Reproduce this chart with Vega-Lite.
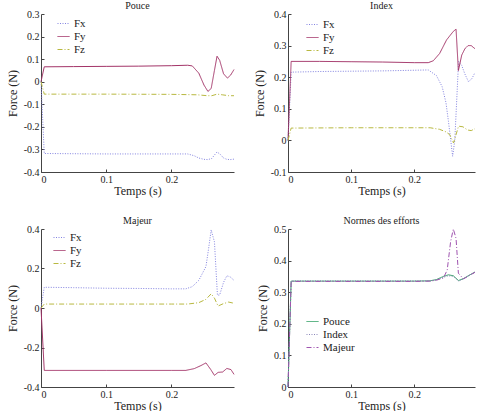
{
  "$schema": "https://vega.github.io/schema/vega-lite/v6.json",
  "padding": {"left": 6, "top": 0, "right": 0, "bottom": 0},
  "config": {
    "font": "Liberation Serif",
    "view": {"stroke": null},
    "axis": {"grid": false, "domainColor": "#444", "tickColor": "#444", "tickSize": -3, "labelPadding": 5, "labelFont": "Liberation Serif", "labelFontSize": 10, "labelColor": "#222", "titleFont": "Liberation Serif", "titleFontSize": 12, "titleFontWeight": "normal", "titleColor": "#222"},
    "axisX": {"titlePadding": 1},
    "title": {"font": "Liberation Serif", "fontSize": 10, "fontWeight": "normal", "color": "#222", "offset": -1.5},
    "legend": {"labelFont": "Liberation Serif", "labelFontSize": 11, "labelColor": "#222", "symbolType": "stroke", "symbolSize": 144, "symbolStrokeWidth": 1.2, "rowPadding": 1, "title": null},
    "line": {"strokeWidth": 1}
  },
  "datasets": {
    "d": [
      {"p":"Pouce","s":"Fx","t":0,"f":0},{"p":"Pouce","s":"Fx","t":0.005,"f":-0.318},{"p":"Pouce","s":"Fx","t":0.05,"f":-0.319},{"p":"Pouce","s":"Fx","t":0.1,"f":-0.32},{"p":"Pouce","s":"Fx","t":0.15,"f":-0.32},{"p":"Pouce","s":"Fx","t":0.2,"f":-0.32},{"p":"Pouce","s":"Fx","t":0.225,"f":-0.32},{"p":"Pouce","s":"Fx","t":0.235,"f":-0.328},{"p":"Pouce","s":"Fx","t":0.242,"f":-0.338},{"p":"Pouce","s":"Fx","t":0.25,"f":-0.344},{"p":"Pouce","s":"Fx","t":0.256,"f":-0.345},{"p":"Pouce","s":"Fx","t":0.262,"f":-0.34},{"p":"Pouce","s":"Fx","t":0.266,"f":-0.325},{"p":"Pouce","s":"Fx","t":0.27,"f":-0.311},{"p":"Pouce","s":"Fx","t":0.275,"f":-0.322},{"p":"Pouce","s":"Fx","t":0.28,"f":-0.338},{"p":"Pouce","s":"Fx","t":0.285,"f":-0.344},{"p":"Pouce","s":"Fx","t":0.29,"f":-0.345},{"p":"Pouce","s":"Fx","t":0.296,"f":-0.343},
      {"p":"Pouce","s":"Fy","t":0,"f":0},{"p":"Pouce","s":"Fy","t":0.005,"f":0.066},{"p":"Pouce","s":"Fy","t":0.05,"f":0.067},{"p":"Pouce","s":"Fy","t":0.1,"f":0.068},{"p":"Pouce","s":"Fy","t":0.15,"f":0.069},{"p":"Pouce","s":"Fy","t":0.2,"f":0.071},{"p":"Pouce","s":"Fy","t":0.225,"f":0.073},{"p":"Pouce","s":"Fy","t":0.232,"f":0.07},{"p":"Pouce","s":"Fy","t":0.242,"f":0.038},{"p":"Pouce","s":"Fy","t":0.25,"f":-0.015},{"p":"Pouce","s":"Fy","t":0.256,"f":-0.043},{"p":"Pouce","s":"Fy","t":0.261,"f":-0.03},{"p":"Pouce","s":"Fy","t":0.266,"f":0.05},{"p":"Pouce","s":"Fy","t":0.27,"f":0.113},{"p":"Pouce","s":"Fy","t":0.274,"f":0.095},{"p":"Pouce","s":"Fy","t":0.28,"f":0.035},{"p":"Pouce","s":"Fy","t":0.286,"f":0.016},{"p":"Pouce","s":"Fy","t":0.291,"f":0.03},{"p":"Pouce","s":"Fy","t":0.296,"f":0.054},
      {"p":"Pouce","s":"Fz","t":0,"f":0},{"p":"Pouce","s":"Fz","t":0.005,"f":-0.055},{"p":"Pouce","s":"Fz","t":0.1,"f":-0.055},{"p":"Pouce","s":"Fz","t":0.2,"f":-0.056},{"p":"Pouce","s":"Fz","t":0.24,"f":-0.058},{"p":"Pouce","s":"Fz","t":0.255,"f":-0.062},{"p":"Pouce","s":"Fz","t":0.262,"f":-0.062},{"p":"Pouce","s":"Fz","t":0.27,"f":-0.055},{"p":"Pouce","s":"Fz","t":0.278,"f":-0.058},{"p":"Pouce","s":"Fz","t":0.288,"f":-0.062},{"p":"Pouce","s":"Fz","t":0.296,"f":-0.062},
      {"p":"Index","s":"Fx","t":0,"f":0},{"p":"Index","s":"Fx","t":0.005,"f":0.216},{"p":"Index","s":"Fx","t":0.05,"f":0.218},{"p":"Index","s":"Fx","t":0.1,"f":0.219},{"p":"Index","s":"Fx","t":0.15,"f":0.22},{"p":"Index","s":"Fx","t":0.2,"f":0.222},{"p":"Index","s":"Fx","t":0.222,"f":0.223},{"p":"Index","s":"Fx","t":0.235,"f":0.205},{"p":"Index","s":"Fx","t":0.244,"f":0.17},{"p":"Index","s":"Fx","t":0.25,"f":0.12},{"p":"Index","s":"Fx","t":0.254,"f":0.06},{"p":"Index","s":"Fx","t":0.2606,"f":-0.05},{"p":"Index","s":"Fx","t":0.264,"f":0.0},{"p":"Index","s":"Fx","t":0.27,"f":0.25},{"p":"Index","s":"Fx","t":0.275,"f":0.237},{"p":"Index","s":"Fx","t":0.28,"f":0.21},{"p":"Index","s":"Fx","t":0.2856,"f":0.186},{"p":"Index","s":"Fx","t":0.291,"f":0.195},{"p":"Index","s":"Fx","t":0.296,"f":0.215},
      {"p":"Index","s":"Fy","t":0,"f":0},{"p":"Index","s":"Fy","t":0.005,"f":0.25},{"p":"Index","s":"Fy","t":0.05,"f":0.25},{"p":"Index","s":"Fy","t":0.1,"f":0.249},{"p":"Index","s":"Fy","t":0.15,"f":0.248},{"p":"Index","s":"Fy","t":0.2,"f":0.246},{"p":"Index","s":"Fy","t":0.222,"f":0.246},{"p":"Index","s":"Fy","t":0.23,"f":0.252},{"p":"Index","s":"Fy","t":0.24,"f":0.275},{"p":"Index","s":"Fy","t":0.251,"f":0.318},{"p":"Index","s":"Fy","t":0.2617,"f":0.345},{"p":"Index","s":"Fy","t":0.266,"f":0.352},{"p":"Index","s":"Fy","t":0.2697,"f":0.221},{"p":"Index","s":"Fy","t":0.275,"f":0.27},{"p":"Index","s":"Fy","t":0.28,"f":0.29},{"p":"Index","s":"Fy","t":0.285,"f":0.3},{"p":"Index","s":"Fy","t":0.29,"f":0.3},{"p":"Index","s":"Fy","t":0.296,"f":0.29},
      {"p":"Index","s":"Fz","t":0,"f":0},{"p":"Index","s":"Fz","t":0.005,"f":0.039},{"p":"Index","s":"Fz","t":0.1,"f":0.04},{"p":"Index","s":"Fz","t":0.2,"f":0.04},{"p":"Index","s":"Fz","t":0.225,"f":0.04},{"p":"Index","s":"Fz","t":0.24,"f":0.035},{"p":"Index","s":"Fz","t":0.25,"f":0.027},{"p":"Index","s":"Fz","t":0.256,"f":0.018},{"p":"Index","s":"Fz","t":0.262,"f":-0.008},{"p":"Index","s":"Fz","t":0.27,"f":0.045},{"p":"Index","s":"Fz","t":0.277,"f":0.043},{"p":"Index","s":"Fz","t":0.284,"f":0.033},{"p":"Index","s":"Fz","t":0.29,"f":0.031},{"p":"Index","s":"Fz","t":0.296,"f":0.037},
      {"p":"Majeur","s":"Fx","t":0,"f":0},{"p":"Majeur","s":"Fx","t":0.005,"f":0.105},{"p":"Majeur","s":"Fx","t":0.05,"f":0.103},{"p":"Majeur","s":"Fx","t":0.1,"f":0.1},{"p":"Majeur","s":"Fx","t":0.15,"f":0.099},{"p":"Majeur","s":"Fx","t":0.2,"f":0.097},{"p":"Majeur","s":"Fx","t":0.222,"f":0.097},{"p":"Majeur","s":"Fx","t":0.232,"f":0.108},{"p":"Majeur","s":"Fx","t":0.242,"f":0.14},{"p":"Majeur","s":"Fx","t":0.253,"f":0.21},{"p":"Majeur","s":"Fx","t":0.257,"f":0.3},{"p":"Majeur","s":"Fx","t":0.261,"f":0.395},{"p":"Majeur","s":"Fx","t":0.266,"f":0.335},{"p":"Majeur","s":"Fx","t":0.2706,"f":0.065},{"p":"Majeur","s":"Fx","t":0.274,"f":0.066},{"p":"Majeur","s":"Fx","t":0.28,"f":0.13},{"p":"Majeur","s":"Fx","t":0.285,"f":0.163},{"p":"Majeur","s":"Fx","t":0.29,"f":0.158},{"p":"Majeur","s":"Fx","t":0.296,"f":0.14},
      {"p":"Majeur","s":"Fy","t":0,"f":0},{"p":"Majeur","s":"Fy","t":0.005,"f":-0.316},{"p":"Majeur","s":"Fy","t":0.1,"f":-0.316},{"p":"Majeur","s":"Fy","t":0.2,"f":-0.316},{"p":"Majeur","s":"Fy","t":0.222,"f":-0.316},{"p":"Majeur","s":"Fy","t":0.235,"f":-0.307},{"p":"Majeur","s":"Fy","t":0.245,"f":-0.292},{"p":"Majeur","s":"Fy","t":0.253,"f":-0.278},{"p":"Majeur","s":"Fy","t":0.26,"f":-0.31},{"p":"Majeur","s":"Fy","t":0.266,"f":-0.341},{"p":"Majeur","s":"Fy","t":0.2716,"f":-0.326},{"p":"Majeur","s":"Fy","t":0.2786,"f":-0.324},{"p":"Majeur","s":"Fy","t":0.285,"f":-0.306},{"p":"Majeur","s":"Fy","t":0.2914,"f":-0.312},{"p":"Majeur","s":"Fy","t":0.296,"f":-0.336},
      {"p":"Majeur","s":"Fz","t":0,"f":0},{"p":"Majeur","s":"Fz","t":0.005,"f":0.02},{"p":"Majeur","s":"Fz","t":0.1,"f":0.02},{"p":"Majeur","s":"Fz","t":0.2,"f":0.02},{"p":"Majeur","s":"Fz","t":0.225,"f":0.02},{"p":"Majeur","s":"Fz","t":0.242,"f":0.027},{"p":"Majeur","s":"Fz","t":0.253,"f":0.044},{"p":"Majeur","s":"Fz","t":0.261,"f":0.072},{"p":"Majeur","s":"Fz","t":0.266,"f":0.05},{"p":"Majeur","s":"Fz","t":0.2716,"f":0.01},{"p":"Majeur","s":"Fz","t":0.2797,"f":0.022},{"p":"Majeur","s":"Fz","t":0.2877,"f":0.03},{"p":"Majeur","s":"Fz","t":0.296,"f":0.024},
      {"p":"Normes","s":"Pouce","t":0,"f":0},{"p":"Normes","s":"Pouce","t":0.005,"f":0.335},{"p":"Normes","s":"Pouce","t":0.1,"f":0.335},{"p":"Normes","s":"Pouce","t":0.2,"f":0.335},{"p":"Normes","s":"Pouce","t":0.225,"f":0.336},{"p":"Normes","s":"Pouce","t":0.235,"f":0.34},{"p":"Normes","s":"Pouce","t":0.246,"f":0.35},{"p":"Normes","s":"Pouce","t":0.254,"f":0.355},{"p":"Normes","s":"Pouce","t":0.2617,"f":0.352},{"p":"Normes","s":"Pouce","t":0.27,"f":0.337},{"p":"Normes","s":"Pouce","t":0.2777,"f":0.343},{"p":"Normes","s":"Pouce","t":0.288,"f":0.355},{"p":"Normes","s":"Pouce","t":0.296,"f":0.364},
      {"p":"Normes","s":"Index","t":0,"f":0},{"p":"Normes","s":"Index","t":0.005,"f":0.336},{"p":"Normes","s":"Index","t":0.1,"f":0.336},{"p":"Normes","s":"Index","t":0.2,"f":0.336},{"p":"Normes","s":"Index","t":0.225,"f":0.336},{"p":"Normes","s":"Index","t":0.235,"f":0.339},{"p":"Normes","s":"Index","t":0.246,"f":0.347},{"p":"Normes","s":"Index","t":0.254,"f":0.352},{"p":"Normes","s":"Index","t":0.2617,"f":0.35},{"p":"Normes","s":"Index","t":0.27,"f":0.335},{"p":"Normes","s":"Index","t":0.2777,"f":0.342},{"p":"Normes","s":"Index","t":0.288,"f":0.355},{"p":"Normes","s":"Index","t":0.296,"f":0.362},
      {"p":"Normes","s":"Majeur","t":0,"f":0},{"p":"Normes","s":"Majeur","t":0.005,"f":0.334},{"p":"Normes","s":"Majeur","t":0.1,"f":0.334},{"p":"Normes","s":"Majeur","t":0.2,"f":0.334},{"p":"Normes","s":"Majeur","t":0.225,"f":0.335},{"p":"Normes","s":"Majeur","t":0.235,"f":0.338},{"p":"Normes","s":"Majeur","t":0.246,"f":0.345},{"p":"Normes","s":"Majeur","t":0.252,"f":0.37},{"p":"Normes","s":"Majeur","t":0.2574,"f":0.46},{"p":"Normes","s":"Majeur","t":0.2617,"f":0.5},{"p":"Normes","s":"Majeur","t":0.266,"f":0.47},{"p":"Normes","s":"Majeur","t":0.2697,"f":0.36},{"p":"Normes","s":"Majeur","t":0.2777,"f":0.342},{"p":"Normes","s":"Majeur","t":0.288,"f":0.354},{"p":"Normes","s":"Majeur","t":0.296,"f":0.363}
    ]
  },
  "columns": 2,
  "spacing": {"row": 19, "column": 17},
  "resolve": {"scale": {"color": "independent", "strokeDash": "independent", "x": "independent", "y": "independent"}, "legend": {"color": "independent", "strokeDash": "independent"}},
  "concat": [
    {
      "title": "Pouce",
      "width": 193, "height": 158,
      "data": {"name": "d"},
      "transform": [{"filter": "datum.p == 'Pouce'"}],
      "mark": {"type": "line", "strokeWidth": 1},
      "encoding": {
        "x": {"field": "t", "type": "quantitative", "scale": {"domain": [0, 0.296], "nice": false, "zero": false}, "axis": {"values": [0, 0.1, 0.2], "title": "Temps (s)", "labelExpr": "'' + datum.value"}},
        "y": {"field": "f", "type": "quantitative", "scale": {"domain": [-0.4, 0.3], "nice": false}, "axis": {"values": [-0.4, -0.3, -0.2, -0.1, 0, 0.1, 0.2, 0.3], "title": "Force (N)", "labelExpr": "'' + datum.value"}},
        "color": {"field": "s", "type": "nominal", "scale": {"domain": ["Fx", "Fy", "Fz"], "range": ["#8383e0", "#a33468", "#b8b840"]}, "legend": {"orient": "none", "legendX": 16, "legendY": 3}},
        "strokeDash": {"field": "s", "type": "nominal", "scale": {"domain": ["Fx", "Fy", "Fz"], "range": [[1, 1.5], [1, 0], [5, 2, 1, 2]]}, "legend": {"orient": "none", "legendX": 16, "legendY": 3}}
      }
    },
    {
      "title": "Index",
      "width": 187, "height": 158,
      "data": {"name": "d"},
      "transform": [{"filter": "datum.p == 'Index'"}],
      "mark": {"type": "line", "strokeWidth": 1},
      "encoding": {
        "x": {"field": "t", "type": "quantitative", "scale": {"domain": [0, 0.296], "nice": false, "zero": false}, "axis": {"values": [0, 0.1, 0.2], "title": "Temps (s)", "labelExpr": "'' + datum.value"}},
        "y": {"field": "f", "type": "quantitative", "scale": {"domain": [-0.1, 0.4], "nice": false}, "axis": {"values": [-0.1, 0, 0.1, 0.2, 0.3, 0.4], "title": "Force (N)", "labelExpr": "'' + datum.value"}},
        "color": {"field": "s", "type": "nominal", "scale": {"domain": ["Fx", "Fy", "Fz"], "range": ["#8383e0", "#a33468", "#b8b840"]}, "legend": {"orient": "none", "legendX": 18, "legendY": 4}},
        "strokeDash": {"field": "s", "type": "nominal", "scale": {"domain": ["Fx", "Fy", "Fz"], "range": [[1, 1.5], [1, 0], [5, 2, 1, 2]]}, "legend": {"orient": "none", "legendX": 18, "legendY": 4}}
      }
    },
    {
      "title": "Majeur",
      "width": 193, "height": 158,
      "data": {"name": "d"},
      "transform": [{"filter": "datum.p == 'Majeur'"}],
      "mark": {"type": "line", "strokeWidth": 1},
      "encoding": {
        "x": {"field": "t", "type": "quantitative", "scale": {"domain": [0, 0.296], "nice": false, "zero": false}, "axis": {"values": [0, 0.1, 0.2], "title": "Temps (s)", "labelExpr": "'' + datum.value"}},
        "y": {"field": "f", "type": "quantitative", "scale": {"domain": [-0.4, 0.4], "nice": false}, "axis": {"values": [-0.4, -0.2, 0, 0.2, 0.4], "title": "Force (N)", "labelExpr": "'' + datum.value"}},
        "color": {"field": "s", "type": "nominal", "scale": {"domain": ["Fx", "Fy", "Fz"], "range": ["#8383e0", "#a33468", "#b8b840"]}, "legend": {"orient": "none", "legendX": 12, "legendY": 2}},
        "strokeDash": {"field": "s", "type": "nominal", "scale": {"domain": ["Fx", "Fy", "Fz"], "range": [[1, 1.5], [1, 0], [5, 2, 1, 2]]}, "legend": {"orient": "none", "legendX": 12, "legendY": 2}}
      }
    },
    {
      "title": "Normes des efforts",
      "width": 187, "height": 158,
      "data": {"name": "d"},
      "transform": [{"filter": "datum.p == 'Normes'"}],
      "mark": {"type": "line", "strokeWidth": 1},
      "encoding": {
        "x": {"field": "t", "type": "quantitative", "scale": {"domain": [0, 0.296], "nice": false, "zero": false}, "axis": {"values": [0, 0.1, 0.2], "title": "Temps (s)", "labelExpr": "'' + datum.value"}},
        "y": {"field": "f", "type": "quantitative", "scale": {"domain": [0, 0.5], "nice": false}, "axis": {"values": [0, 0.1, 0.2, 0.3, 0.4, 0.5], "title": "Force (N)", "labelExpr": "'' + datum.value"}},
        "color": {"field": "s", "type": "nominal", "scale": {"domain": ["Pouce", "Index", "Majeur"], "range": ["#2f9e62", "#8a86b8", "#a055b0"]}, "legend": {"orient": "none", "legendX": 18, "legendY": 86}},
        "strokeDash": {"field": "s", "type": "nominal", "scale": {"domain": ["Pouce", "Index", "Majeur"], "range": [[1, 0], [1, 1.5], [5, 2, 1, 2]]}, "legend": {"orient": "none", "legendX": 18, "legendY": 86}}
      }
    }
  ]
}
